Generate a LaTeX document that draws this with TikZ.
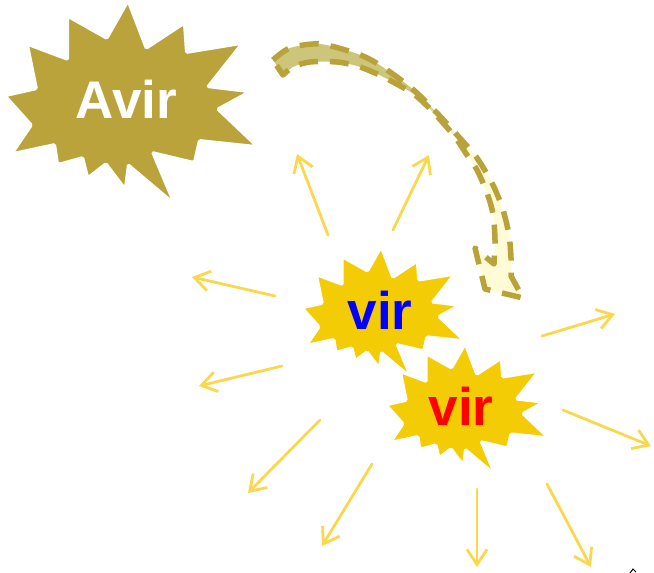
\documentclass[tikz,border=0pt]{standalone}
\usepackage{fontspec}
\setmainfont{Liberation Sans}
\usetikzlibrary{arrows.meta}

\definecolor{avirOlive}{RGB}{186,163,59}
\definecolor{burstYellow}{RGB}{244,204,6}
\definecolor{rayYellow}{RGB}{250,216,78}
\definecolor{dashOlive}{RGB}{185,162,58}
\definecolor{bandOlive}{RGB}{204,197,122}
\definecolor{bandPale}{RGB}{255,251,214}

% fill of the curved arrow: olive in its upper part, pale yellow below
\pgfdeclareverticalshading{bandfade}{100bp}{color(0bp)=(bandPale); color(56bp)=(bandPale); color(64bp)=(bandOlive); color(100bp)=(bandOlive)}

\tikzset{
  burst/.pic={
    \filldraw[fill=#1, draw=white, line width=2pt, rounded corners=1.5pt]
      (122,0) -- (140,47) -- (178,22) -- (180,51) -- (235,42) -- (201,85)
      -- (242,90) -- (211,107) -- (250,144) -- (193,138) -- (188,160)
      -- (146,150) -- (167,200) -- (122,162) -- (119,186) -- (100,161)
      -- (82,175) -- (77,155) -- (52,162) -- (49,142) -- (7,151)
      -- (26,123) -- (0,94) -- (31,87) -- (22,43) -- (62,58) -- (62,15)
      -- (101,37) -- cycle;
  },
  burstlabel/.style={font=\bfseries\fontsize{53}{60}\selectfont, anchor=base, inner sep=0pt},
  ray/.style={draw=rayYellow, line width=2.8pt, line cap=round,
    -{Straight Barb[length=15pt,width=20pt]}},
  band/.style={shading=bandfade, draw=dashOlive, line width=5.5pt,
    dash pattern=on 19pt off 12pt, line join=round}
}

\begin{document}
\begin{tikzpicture}[x=1pt,y=-1pt]
\useasboundingbox (0,0) rectangle (654,573);

% the three starbursts
\pic at (6,2) {burst=avirOlive};
\pic[scale=0.64] at (303,248) {burst=burstYellow};
\pic[scale=0.64] at (387,345) {burst=burstYellow};

\node[burstlabel, text=white] (avir) at (126.5,118) {Avir};
\node[burstlabel, text=blue] (virA) at (380,329) {vir};
\node[burstlabel, text=red] (virB) at (461,425) {vir};

% curved dashed arrow from the big burst down towards the small ones
\shadedraw[band]
  (273,60) -- plot[smooth] coordinates {(273,60) (290,48) (320,44) (355,53)
    (373,61) (390,72) (405,83) (417,93) (437,113) (458,136) (477,158)
    (493,185) (503,210) (509,235) (511,258) (511,276)}
  -- (523,298) -- (485,289) -- (475,248) -- (494,264)
  -- plot[smooth] coordinates {(494,264) (495,240) (493,214) (487,193)
    (477,170) (465,152) (455,137) (435,114) (415,95) (393,82) (375,73)
    (357,66) (337,62) (310,62) (293,67) (283,75)}
  -- cycle;

% rays spreading out around the small bursts
\coordinate (s1) at (328,235);  \coordinate (e1) at (297,154);
\coordinate (s2) at (393,230);  \coordinate (e2) at (429,155);
\coordinate (s3) at (275,296);  \coordinate (e3) at (192,277);
\coordinate (s4) at (282,366);  \coordinate (e4) at (199,386);
\coordinate (s5) at (320,420);  \coordinate (e5) at (248,493);
\coordinate (s6) at (372,464);  \coordinate (e6) at (322,546);
\coordinate (s7) at (477,489);  \coordinate (e7) at (477,567);
\coordinate (s8) at (547,484);  \coordinate (e8) at (591,567);
\coordinate (s9) at (563,410);  \coordinate (e9) at (651,446);
\coordinate (s10) at (542,336); \coordinate (e10) at (615,314);
\foreach \i in {1,...,10}{
  \draw[ray] (s\i) -- (e\i);
}

% small dark mark in the lower right corner
\coordinate (m1) at (630,573);
\coordinate (m2) at (633,569);
\coordinate (m3) at (636,572);
\draw[black, line width=1pt] (m1) -- (m2) -- (m3);
\end{tikzpicture}
\end{document}
